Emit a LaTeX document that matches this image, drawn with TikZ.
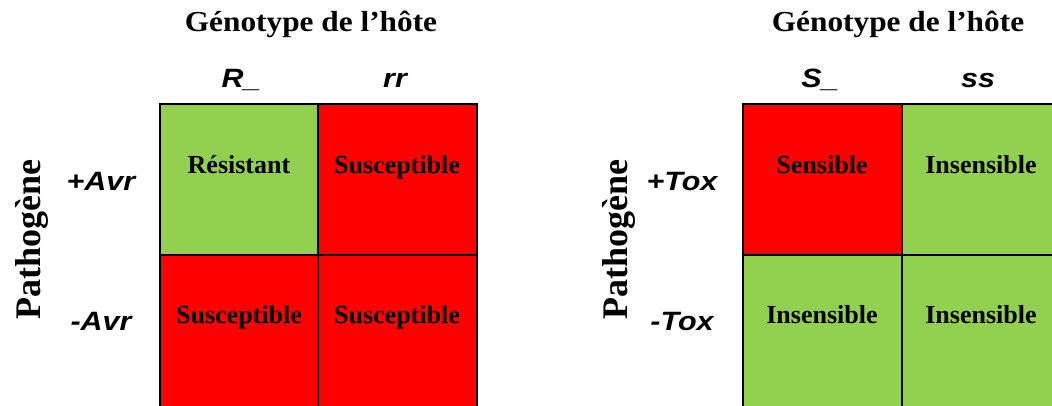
\documentclass[tikz,border=0pt]{standalone}
\usepackage{fontspec}
\setmainfont{Liberation Serif}
\setsansfont{Liberation Sans}
\definecolor{cgreen}{HTML}{92D050}
\definecolor{cred}{HTML}{FF0000}
\newcommand\axlab[1]{\scalebox{1.15}[1]{\fontsize{26.5}{30}\selectfont\sffamily\bfseries\itshape #1}}
\newcommand\ttl[1]{\scalebox{1.08}[1]{\fontsize{29}{34}\selectfont\bfseries #1}}
\tikzset{
  gridline/.style={line width=2.8pt, draw=black},
  celltext/.style={anchor=base, inner sep=0pt, font=\fontsize{26}{30}\selectfont\bfseries},
  axis/.style={anchor=base, inner sep=0pt},
  ptext/.style={anchor=base west, rotate=90, inner sep=0pt, font=\fontsize{36}{40}\selectfont\bfseries}
}
\begin{document}
\begin{tikzpicture}[x=1pt,y=-1pt]
\useasboundingbox (0,0) rectangle (1052,405);
\fill[white] (0,0) rectangle (1052,405);
\begin{scope}
\clip (0,0) rectangle (1052,405);
% left grid
\fill[cgreen] (160,104) rectangle (318,255);
\fill[cred] (318,104) rectangle (477,255);
\fill[cred] (160,255) rectangle (318,420);
\fill[cred] (318,255) rectangle (477,420);
\draw[gridline] (160,420) -- (160,104) -- (477,104) -- (477,420);
\draw[gridline] (318,104) -- (318,420);
\draw[gridline] (160,255) -- (477,255);
% right grid
\fill[cred] (743,104) rectangle (902,255);
\fill[cgreen] (902,104) rectangle (1070,255);
\fill[cgreen] (743,255) rectangle (902,420);
\fill[cgreen] (902,255) rectangle (1070,420);
\draw[gridline] (743,420) -- (743,104) -- (1070,104);
\draw[gridline] (902,104) -- (902,420);
\draw[gridline] (743,255) -- (1070,255);
\end{scope}
% left texts
\node[axis] (t1) at (311,31) {\ttl{Génotype de l’hôte}};
\node[axis] (rA) at (241,87) {\axlab{R\_}};
\node[axis] (rB) at (395,87) {\axlab{rr}};
\node[axis] (pA) at (101,190) {\axlab{+Avr}};
\node[axis] (mA) at (101,330) {\axlab{-Avr}};
\node[ptext] (p1) at (40,320) {Pathogène};
\node[celltext] (c11) at (239,173) {Résistant};
\node[celltext] (c12) at (397,173) {Susceptible};
\node[celltext] (c21) at (239,323) {Susceptible};
\node[celltext] (c22) at (397,323) {Susceptible};
% right texts
\node[axis] (t2) at (898,31) {\ttl{Génotype de l’hôte}};
\node[axis] (sA) at (820,87) {\axlab{S\_}};
\node[axis] (sB) at (978,87) {\axlab{ss}};
\node[axis] (pT) at (682,190) {\axlab{+Tox}};
\node[axis] (mT) at (682,330) {\axlab{-Tox}};
\node[ptext] (p2) at (627,320) {Pathogène};
\node[celltext] (d11) at (822,173) {Sensible};
\node[celltext] (d12) at (981,173) {Insensible};
\node[celltext] (d21) at (822,323) {Insensible};
\node[celltext] (d22) at (981,323) {Insensible};
\end{tikzpicture}
\end{document}
